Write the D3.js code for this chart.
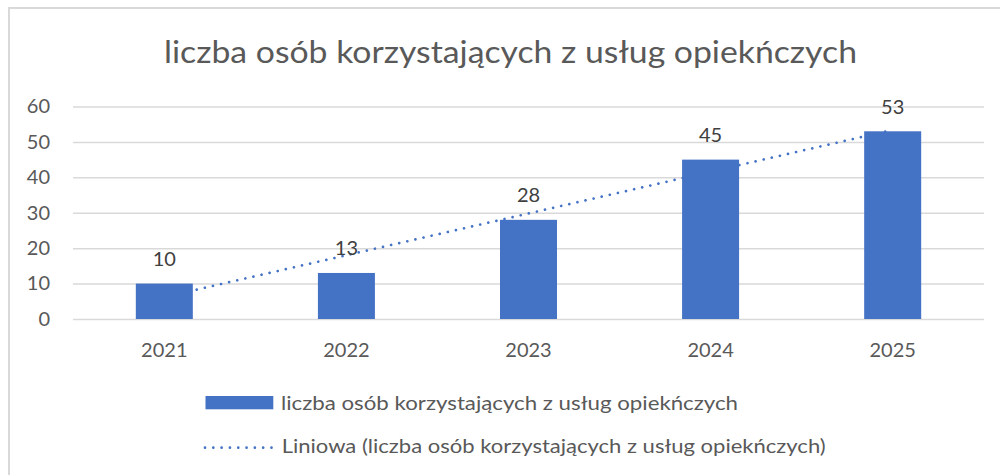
<!DOCTYPE html>
<html>
<head>
<meta charset="utf-8">
<script src="https://cdn.jsdelivr.net/npm/d3@7"></script>
<style>
  html, body { margin: 0; padding: 0; background: #fff; }
  svg { display: block; font-family: Lato, "Open Sans", sans-serif; }
</style>
</head>
<body>
<div id="chart"></div>
<script>
const TITLE = "liczba osób korzystających z usług opiekńczych";
const years = ["2021", "2022", "2023", "2024", "2025"];
const values = [10, 13, 28, 45, 53];
const yTicks = [0, 10, 20, 30, 40, 50, 60];
// linear trendline, value at first and last category
const trendYears = ["2021", "2025"];
const trendValues = [6.2, 53.4];
const legendLabels = [TITLE, "Liniowa (" + TITLE + ")"];

const W = 1000, H = 475;
const m = { t: 106.5, r: 16, b: 156, l: 73 };
const BLUE = "#4472C4", GRID = "#D9D9D9", TXT = "#595959";

const svg = d3.select("#chart").append("svg")
  .attr("width", W).attr("height", H);

// chart frame (only top + left visible)
svg.append("rect")
  .attr("x", 9).attr("y", 8)
  .attr("width", W + 20).attr("height", H + 20)
  .attr("fill", "#fff").attr("stroke", GRID).attr("stroke-width", 2);

// title
svg.append("text")
  .attr("x", 164).attr("y", 62.7)
  .attr("font-size", 31).attr("fill", TXT)
  .attr("textLength", 693).attr("lengthAdjust", "spacingAndGlyphs")
  .text(TITLE);

const x = d3.scaleBand()
  .domain(years)
  .range([m.l, W - m.r])
  .paddingInner(0.687)
  .paddingOuter(0.345);

const y = d3.scaleLinear()
  .domain([0, 60])
  .range([H - m.b - 0, m.t])
  .nice();
y.range([319, 106.5]);

// y axis + gridlines
const yAx = svg.append("g")
  .attr("transform", `translate(${m.l},0)`)
  .call(d3.axisLeft(y).tickValues(yTicks).tickSize(-(W - m.r - m.l)).tickPadding(23));
yAx.select(".domain").remove();
yAx.selectAll(".tick line").attr("stroke", GRID).attr("stroke-width", 1.5);
yAx.selectAll(".tick text")
  .attr("fill", TXT).attr("font-size", 20).attr("font-family", "Lato, sans-serif");

// x axis labels
const xAx = svg.append("g")
  .attr("transform", `translate(0,${y(0)})`)
  .call(d3.axisBottom(x).tickSize(0).tickPadding(23.5));
xAx.select(".domain").remove();
xAx.selectAll(".tick text")
  .attr("fill", TXT).attr("font-size", 20).attr("font-family", "Lato, sans-serif");

// trendline (behind bars)
const cx = d => x(d) + x.bandwidth() / 2;
svg.append("line")
  .attr("x1", cx(trendYears[0])).attr("y1", y(trendValues[0]))
  .attr("x2", cx(trendYears[1])).attr("y2", y(trendValues[1]))
  .attr("stroke", BLUE).attr("stroke-width", 2.7)
  .attr("stroke-linecap", "round")
  .attr("stroke-dasharray", "0.01 8.3");

// bars
svg.append("g").selectAll("rect")
  .data(years)
  .join("rect")
  .attr("x", d => x(d))
  .attr("y", (d, i) => y(values[i]))
  .attr("width", x.bandwidth())
  .attr("height", (d, i) => y(0) - y(values[i]))
  .attr("fill", BLUE);

// data labels
svg.append("g").selectAll("text")
  .data(years)
  .join("text")
  .attr("x", d => cx(d))
  .attr("y", (d, i) => y(values[i]) - 17.5)
  .attr("text-anchor", "middle")
  .attr("font-size", 20).attr("fill", "#404040")
  .text((d, i) => values[i]);

// legend
const lg = svg.append("g");
lg.append("rect")
  .attr("x", 205.5).attr("y", 396)
  .attr("width", 67.8).attr("height", 13.3)
  .attr("fill", BLUE);
lg.append("text")
  .attr("x", 281).attr("y", 410)
  .attr("font-size", 20).attr("fill", TXT)
  .attr("textLength", 457).attr("lengthAdjust", "spacingAndGlyphs")
  .text(legendLabels[0]);
lg.append("line")
  .attr("x1", 205).attr("x2", 272)
  .attr("y1", 447.7).attr("y2", 447.7)
  .attr("stroke", BLUE).attr("stroke-width", 2.7)
  .attr("stroke-linecap", "round")
  .attr("stroke-dasharray", "0.01 8.3");
lg.append("text")
  .attr("x", 281.7).attr("y", 453)
  .attr("font-size", 20).attr("fill", TXT)
  .attr("textLength", 544).attr("lengthAdjust", "spacingAndGlyphs")
  .text(legendLabels[1]);
</script>
</body>
</html>
